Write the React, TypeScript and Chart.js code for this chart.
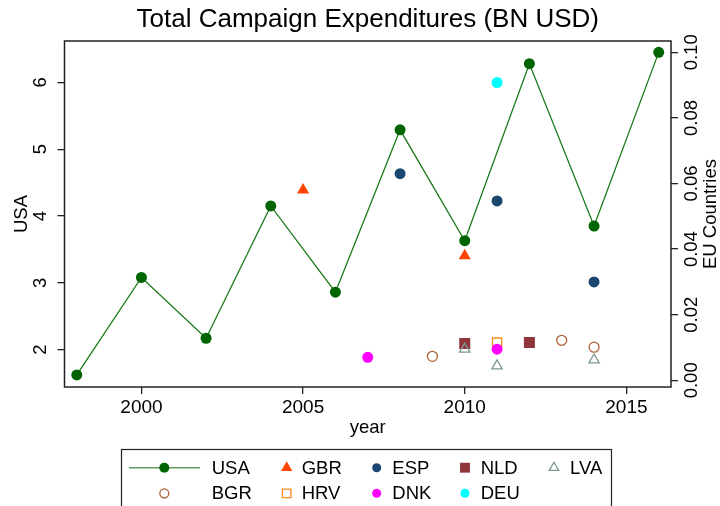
import React, { useEffect, useRef } from "react";
import { Chart, registerables } from "chart.js";

Chart.register(...registerables);

// ---- data ----
const usaYears = [1998, 2000, 2002, 2004, 2006, 2008, 2010, 2012, 2014, 2016];
const usaValues = [1.62, 3.08, 2.17, 4.15, 2.86, 5.29, 3.63, 6.28, 3.85, 6.45];

const gbrYears = [2005, 2010];
const gbrValues = [0.058, 0.038];
const espYears = [2008, 2011, 2014];
const espValues = [0.063, 0.0547, 0.030];
const nldYears = [2010, 2012];
const nldValues = [0.0112, 0.0115];
const lvaYears = [2010, 2011, 2014];
const lvaValues = [0.0095, 0.0044, 0.0062];
const bgrYears = [2009, 2013, 2014];
const bgrValues = [0.0073, 0.0122, 0.0101];
const hrvYears = [2011];
const hrvValues = [0.0115];
const dnkYears = [2007, 2011];
const dnkValues = [0.0070, 0.0095];
const deuYears = [2011];
const deuValues = [0.0908];

const xTicks = [2000, 2005, 2010, 2015];
const usaTicks = [2, 3, 4, 5, 6];
const euTicks = [0, 0.02, 0.04, 0.06, 0.08, 0.1];

const FONT = "'Liberation Sans', Arial, Helvetica, sans-serif";

const pts = (xs: number[], ys: number[]) => xs.map((x, i) => ({ x, y: ys[i] }));

type Series = {
  label: string;
  years: number[];
  values: number[];
  style: string;
  color: string;
  fill: boolean;
  radius: number;
  legendRadius: number;
};

const euSeries: Series[] = [
  { label: "GBR", years: gbrYears, values: gbrValues, style: "triangle", color: "#ff4500", fill: true, radius: 7, legendRadius: 6.5 },
  { label: "ESP", years: espYears, values: espValues, style: "circle", color: "#1a476f", fill: true, radius: 5.5, legendRadius: 4.5 },
  { label: "NLD", years: nldYears, values: nldValues, style: "rect", color: "#90353b", fill: true, radius: 7.8, legendRadius: 7 },
  { label: "LVA", years: lvaYears, values: lvaValues, style: "triangle", color: "#7d9a8f", fill: false, radius: 6, legendRadius: 5.5 },
  { label: "BGR", years: bgrYears, values: bgrValues, style: "circle", color: "#b0603a", fill: false, radius: 5, legendRadius: 4.5 },
  { label: "HRV", years: hrvYears, values: hrvValues, style: "rect", color: "#ff8c1a", fill: false, radius: 6.5, legendRadius: 6 },
  { label: "DNK", years: dnkYears, values: dnkValues, style: "circle", color: "#ff00ff", fill: true, radius: 5.5, legendRadius: 4.5 },
  { label: "DEU", years: deuYears, values: deuValues, style: "circle", color: "#00ffff", fill: true, radius: 5.5, legendRadius: 4.5 },
];

function drawMarker(ctx: CanvasRenderingContext2D, style: string, x: number, y: number, r: number, color: string, fill: boolean) {
  ctx.save();
  ctx.beginPath();
  if (style === "circle") {
    ctx.arc(x, y, r, 0, Math.PI * 2);
  } else if (style === "rect") {
    const s = Math.SQRT1_2 * r;
    ctx.rect(x - s, y - s, 2 * s, 2 * s);
  } else if (style === "triangle") {
    let rad = 0;
    ctx.moveTo(x + Math.sin(rad) * r, y - Math.cos(rad) * r);
    rad += (2 * Math.PI) / 3;
    ctx.lineTo(x + Math.sin(rad) * r, y - Math.cos(rad) * r);
    rad += (2 * Math.PI) / 3;
    ctx.lineTo(x + Math.sin(rad) * r, y - Math.cos(rad) * r);
    ctx.closePath();
  }
  if (fill) {
    ctx.fillStyle = color;
    ctx.fill();
  } else {
    ctx.strokeStyle = color;
    ctx.lineWidth = 1.3;
    ctx.stroke();
  }
  ctx.restore();
}

const overlayPlugin = {
  id: "stataOverlay",
  afterDraw(chart: any) {
    const ctx: CanvasRenderingContext2D = chart.ctx;
    const area = chart.chartArea;
    const yS = chart.scales.y;
    const y1S = chart.scales.y1;
    const cx = (area.left + area.right) / 2;
    const cy = (area.top + area.bottom) / 2;
    ctx.save();
    ctx.fillStyle = "#000";

    // title
    ctx.font = `26px ${FONT}`;
    ctx.textAlign = "center";
    ctx.textBaseline = "middle";
    ctx.fillText("Total Campaign Expenditures (BN USD)", cx, 20);

    // frame
    ctx.strokeStyle = "#222";
    ctx.lineWidth = 1.5;
    ctx.strokeRect(area.left, area.top, area.right - area.left, area.bottom - area.top);

    // rotated tick labels
    ctx.font = `18.5px ${FONT}`;
    for (const t of yS.ticks) {
      const py = yS.getPixelForValue(t.value);
      ctx.save();
      ctx.translate(41, py);
      ctx.rotate(-Math.PI / 2);
      ctx.fillText(String(t.value), 0, 0);
      ctx.restore();
    }
    for (const t of y1S.ticks) {
      const py = y1S.getPixelForValue(t.value);
      ctx.save();
      ctx.translate(692, py);
      ctx.rotate(-Math.PI / 2);
      ctx.fillText(Number(t.value).toFixed(2), 0, 0);
      ctx.restore();
    }

    // axis titles
    ctx.save();
    ctx.translate(22, cy);
    ctx.rotate(-Math.PI / 2);
    ctx.fillText("USA", 0, 0);
    ctx.restore();
    ctx.save();
    ctx.translate(711, cy);
    ctx.rotate(-Math.PI / 2);
    ctx.fillText("EU Countries", 0, 0);
    ctx.restore();
    ctx.fillText("year", cx, 428);

    // legend
    ctx.strokeStyle = "#222";
    ctx.lineWidth = 1.2;
    ctx.strokeRect(121.5, 449.5, 490, 80);
    const row1 = 467.7;
    const row2 = 493.3;
    const markerX = [164.3, 286.7, 376.7, 465, 554];
    const textX = [211.7, 301.7, 392.3, 480.7, 570];
    ctx.textAlign = "left";
    ctx.font = `18.5px ${FONT}`;
    // USA entry
    ctx.strokeStyle = "#5f9a5f";
    ctx.lineWidth = 1.6;
    ctx.beginPath();
    ctx.moveTo(129, row1);
    ctx.lineTo(200, row1);
    ctx.stroke();
    drawMarker(ctx, "circle", markerX[0], row1, 5, "#006400", true);
    ctx.fillStyle = "#000";
    ctx.fillText("USA", textX[0], row1 + 1);
    euSeries.forEach((s, i) => {
      const slot = i + 1;
      const row = slot < 5 ? row1 : row2;
      const col = slot % 5;
      drawMarker(ctx, s.style, markerX[col], row, s.legendRadius, s.color, s.fill);
      ctx.fillStyle = "#000";
      ctx.fillText(s.label, textX[col], row + 1);
    });
    ctx.restore();
  },
};

export default function App() {
  const canvasRef = useRef<HTMLCanvasElement | null>(null);

  useEffect(() => {
    document.body.style.margin = "0";
    const canvas = canvasRef.current;
    if (!canvas) return;

    const datasets: any[] = [
      {
        label: "USA",
        data: pts(usaYears, usaValues),
        yAxisID: "y",
        borderColor: "#1a7a1a",
        borderWidth: 1.3,
        backgroundColor: "#006400",
        pointBackgroundColor: "#006400",
        pointBorderColor: "#006400",
        pointRadius: 5.5,
        pointBorderWidth: 0,
        showLine: true,
        tension: 0,
        order: 20,
      },
      ...euSeries.map((s, i) => ({
        label: s.label,
        data: pts(s.years, s.values),
        yAxisID: "y1",
        showLine: false,
        pointStyle: s.style,
        pointRadius: s.radius,
        pointBackgroundColor: s.fill ? s.color : "rgba(0,0,0,0)",
        pointBorderColor: s.color,
        pointBorderWidth: s.fill ? 0 : 1.3,
        order: 10 - i,
      })),
    ];

    const tickGrid = {
      drawOnChartArea: false,
      drawTicks: true,
      tickLength: 7,
      color: "#222",
      lineWidth: 1.3,
    };

    const chart = new Chart(canvas, {
      type: "line",
      data: { datasets },
      plugins: [overlayPlugin],
      options: {
        animation: false,
        responsive: false,
        devicePixelRatio: 1,
        layout: { padding: { top: 41, left: 0, right: 0, bottom: 0 } },
        plugins: { legend: { display: false }, tooltip: { enabled: false }, title: { display: false } },
        scales: {
          x: {
            type: "linear",
            position: "bottom",
            min: 1997.62,
            max: 2016.38,
            afterBuildTicks: (sc: any) => {
              sc.ticks = xTicks.map((v) => ({ value: v }));
            },
            afterFit: (sc: any) => {
              sc.height = 119;
            },
            grid: tickGrid,
            border: { display: false },
            ticks: {
              color: "#000",
              font: { family: FONT, size: 19 },
              padding: 2,
              maxRotation: 0,
              callback: (v: any) => String(v),
            },
          },
          y: {
            type: "linear",
            position: "left",
            min: 1.44,
            max: 6.62,
            afterBuildTicks: (sc: any) => {
              sc.ticks = usaTicks.map((v) => ({ value: v }));
            },
            afterFit: (sc: any) => {
              sc.width = 64.5;
            },
            grid: tickGrid,
            border: { display: false },
            ticks: { color: "rgba(0,0,0,0)", font: { family: FONT, size: 18 } },
          },
          y1: {
            type: "linear",
            position: "right",
            min: -0.00204,
            max: 0.10345,
            afterBuildTicks: (sc: any) => {
              sc.ticks = euTicks.map((v) => ({ value: v }));
            },
            afterFit: (sc: any) => {
              sc.width = 49;
            },
            grid: tickGrid,
            border: { display: false },
            ticks: { color: "rgba(0,0,0,0)", font: { family: FONT, size: 18 } },
          },
        },
      } as any,
    });

    return () => chart.destroy();
  }, []);

  return (
    <div style={{ width: 720, height: 506, background: "#fff" }}>
      <canvas ref={canvasRef} width={720} height={506} style={{ display: "block" }} />
    </div>
  );
}
